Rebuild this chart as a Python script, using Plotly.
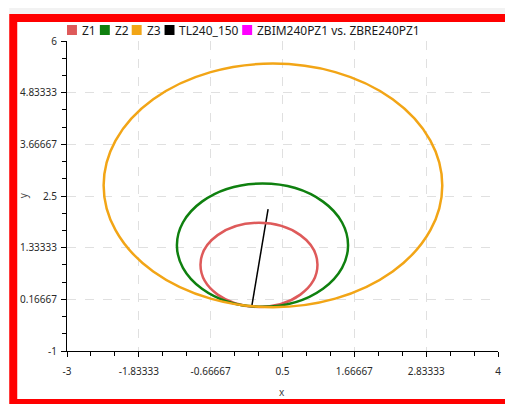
import plotly.graph_objects as go

# series (legend order)
series_names = ["Z1", "Z2", "Z3", "TL240_150", "ZBIM240PZ1 vs. ZBRE240PZ1"]
series_colors = ["#de5a5a", "#0f800f", "#f2a516", "#000000", "#ff00ff"]

# mho zones: centre (R, X) and radius
zone_center_r = [0.118, 0.175, 0.345]
zone_center_x = [0.945, 1.39, 2.74]
zone_radius = [0.95, 1.39, 2.75]

# line impedance TL240_150
line_r = [0.0, 0.266]
line_x = [0.0, 2.206]

x_ticks = [-3, -1.83333, -0.66667, 0.5, 1.66667, 2.83333, 4]
y_ticks = [-1, 0.16667, 1.33333, 2.5, 3.66667, 4.83333, 6]

# page body has an 8px margin, so the figure is a bit smaller than the window
W, H = 505, 396
ML, MR, MT, MB = 58, 14, 33, 53
PW, PH = W - ML - MR, H - MT - MB


def px_x(p):
    return (p - ML) / PW


def px_y(p):
    return (H - MB - p) / PH


fig = go.Figure()

fig.add_trace(go.Scatter(x=line_r, y=line_x, mode="lines",
                         line=dict(color=series_colors[3], width=1.5),
                         name=series_names[3], showlegend=False))

shapes = []
# grey strip on top and the red frame
shapes.append(dict(type="rect", xref="paper", yref="paper", layer="below",
                   x0=px_x(0), x1=px_x(W), y0=px_y(6), y1=px_y(0),
                   fillcolor="#f2f2f2", line=dict(width=0)))
shapes.append(dict(type="rect", xref="paper", yref="paper", layer="above",
                   x0=px_x(4), x1=px_x(506), y0=px_y(395), y1=px_y(10),
                   line=dict(color="#ff0000", width=8)))

for i in range(3):
    shapes.append(dict(type="circle", xref="x", yref="y", layer="above",
                       x0=zone_center_r[i] - zone_radius[i], x1=zone_center_r[i] + zone_radius[i],
                       y0=zone_center_x[i] - zone_radius[i], y1=zone_center_x[i] + zone_radius[i],
                       line=dict(color=series_colors[i], width=2.5)))

# legend (boxes + labels)
legend_box_px = [58, 91, 123, 156, 234]
annotations = []
for name, col, bx in zip(series_names, series_colors, legend_box_px):
    shapes.append(dict(type="rect", xref="paper", yref="paper", layer="above",
                       x0=px_x(bx), x1=px_x(bx + 10), y0=px_y(27), y1=px_y(17),
                       fillcolor=col, line=dict(width=0)))
    annotations.append(dict(text=name, xref="paper", yref="paper", showarrow=False,
                            x=px_x(bx + 13), y=px_y(22), xanchor="left", yanchor="middle",
                            font=dict(size=12, color="#1a1a1a")))

annotations.append(dict(text="x", xref="paper", yref="paper", showarrow=False,
                        x=px_x(274), y=px_y(384), xanchor="center", yanchor="middle",
                        font=dict(size=10, color="#444444")))
annotations.append(dict(text="y", xref="paper", yref="paper", showarrow=False, textangle=-90,
                        x=px_x(14), y=px_y(187), xanchor="center", yanchor="middle",
                        font=dict(size=10, color="#444444")))

axis_common = dict(
    showline=True, linecolor="#000000", linewidth=1,
    ticks="outside", ticklen=5, tickcolor="#000000",
    showgrid=True, gridcolor="#e0e0e0", griddash="dash", gridwidth=1,
    zeroline=False,
    tickfont=dict(size=10, color="#2a2a2a"),
)

fig.update_layout(
    width=W, height=H,
    margin=dict(l=ML, r=MR, t=MT, b=MB),
    paper_bgcolor="white", plot_bgcolor="white",
    font=dict(family="Noto Sans, Open Sans, sans-serif"),
    showlegend=False,
    shapes=shapes, annotations=annotations,
    xaxis=dict(range=[-3, 4], tickmode="array", tickvals=x_ticks,
               ticktext=[f"{v:g}" for v in x_ticks], ticklabelstandoff=6,
               minor=dict(tickmode="linear", tick0=-3, dtick=7 / 18, ticks="outside",
                          ticklen=4, tickcolor="#000000", showgrid=False),
               **axis_common),
    yaxis=dict(range=[-1, 6], tickmode="array", tickvals=y_ticks,
               ticktext=[f"{v:g}" for v in y_ticks], ticklabelstandoff=2,
               minor=dict(tickmode="linear", tick0=-1, dtick=7 / 18, ticks="outside",
                          ticklen=4, tickcolor="#000000", showgrid=False),
               **axis_common),
)

fig.write_html("out.html")
